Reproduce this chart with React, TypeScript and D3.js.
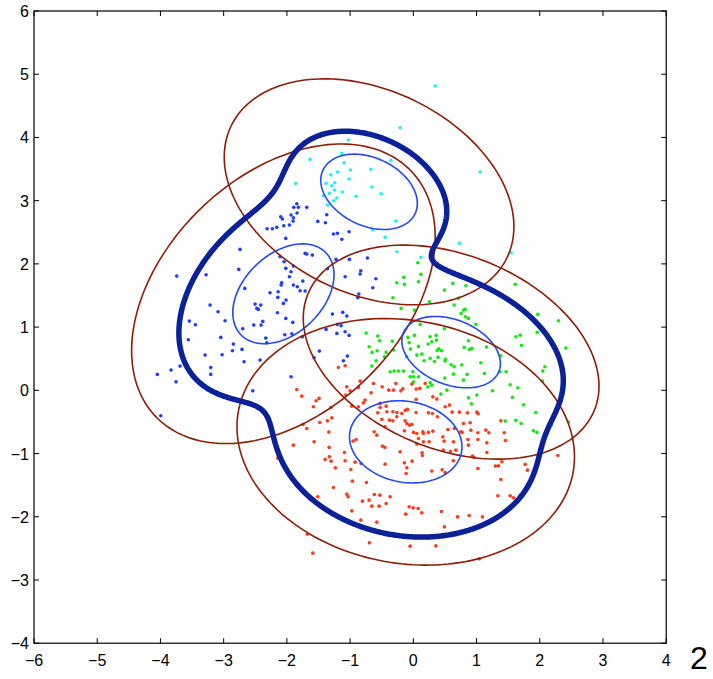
import React, { useMemo } from 'react';
import * as d3 from 'd3';

const W = 713, H = 679;
const xTicks = [-6, -5, -4, -3, -2, -1, 0, 1, 2, 3, 4];
const yTicks = [-4, -3, -2, -1, 0, 1, 2, 3, 4, 5, 6];

// mixture components, order: cyan, blue, green, red
const compMeans = [[-0.70, 3.14], [-2.055, 1.527], [0.598, 0.604], [-0.12, -0.815]];
const compAxes = [[0.806, 0.537], [0.934, 0.626], [0.815, 0.512], [0.897, 0.64]];
const compAngles = [-25.4, 44, -22, -10.4];
const compWeights = [0.075, 0.245, 0.262, 0.418];
const densityLevel = 0.0079;
const pointColors = ['#19f2ff', '#1f3cff', '#12e812', '#ff3a18'];

const cyanPoints = [
  [-1.633, 3.653], [-1.859, 3.274], [-1.38, 3.274], [-1.328, 3.116], [-1.422, 3.078], [-1.353, 2.93],
  [0.345, 4.813], [-0.209, 4.153], [-1.027, 3.959], [-1.131, 3.748], [-1.095, 3.6], [-0.356, 3.638],
  [1.057, 3.453], [-0.995, 3.484], [-0.672, 3.495], [-1.305, 3.41], [-1.201, 3.453], [-1.016, 3.342],
  [-1.242, 3.283], [-1.29, 3.236], [-0.657, 3.215], [-1.248, 3.168], [-1.122, 3.136], [-0.509, 3.109],
  [-1.21, 3.041], [-0.905, 3.068], [-1.258, 2.998], [-0.277, 2.677], [-0.641, 2.535], [-0.446, 2.419],
  [0.729, 2.324], [-0.261, 2.191], [1.547, 2.176], [0.119, 2.103],
];

const bluePoints = [
  [-1.843, 2.951], [-1.891, 2.894], [-1.818, 2.894], [-1.685, 2.894], [-2.097, 2.745], [-2.071, 2.709],
  [-1.934, 2.772], [-1.897, 2.729], [-1.839, 2.804], [-1.902, 2.677], [-2.313, 2.555], [-2.229, 2.555],
  [-2.16, 2.578], [-2.049, 2.603], [-1.96, 2.614], [-2.017, 2.403], [-1.511, 2.672], [-1.391, 2.65],
  [-1.369, 2.777],
  [-2.741, 2.229], [-1.712, 2.166], [-1.685, 2.155], [-1.597, 2.139], [-2.108, 2.112], [-2.044, 2.033],
  [-1.897, 1.965], [-2.017, 1.929], [-1.934, 1.875], [-2.761, 1.913], [-3.742, 1.807], [-3.278, 1.828],
  [-1.96, 1.796], [-1.359, 1.922], [-2.081, 1.701], [-2.092, 1.665], [-1.748, 1.728], [-1.897, 1.665],
  [-1.834, 1.638], [-1.791, 1.574], [-1.712, 1.57], [-2.666, 1.612], [-2.266, 1.543], [-2.139, 1.559],
  [-2.144, 1.47], [-2.013, 1.427], [-2.055, 1.375], [-2.503, 1.364], [-2.413, 1.348], [-2.476, 1.296],
  [-2.451, 1.28], [-3.215, 1.348], [-3.089, 1.242], [-2.15, 1.226], [-2.017, 1.138], [-1.907, 1.074],
  [-2.978, 1.1], [-3.543, 1.095], [-3.448, 1.036], [-2.381, 1.09], [-2.524, 1.032], [-2.408, 1.032],
  [-2.698, 0.973], [-3.046, 0.837], [-3.559, 0.799], [-2.334, 0.826], [-2.033, 0.878], [-1.922, 0.894],
  [-1.755, 0.847], [-2.318, 0.752], [-2.847, 0.731], [-2.709, 0.647], [-2.862, 0.625], [-3.294, 0.557],
  [-3.025, 0.562], [-2.677, 0.451], [-2.424, 0.478], [-1.486, 0.62], [-1.57, 0.514], [-1.38, 0.964],
  [-3.204, 0.362], [-3.69, 0.383], [-3.832, 0.32], [-4.049, 0.252], [-3.204, 0.252], [-3.753, 0.134],
  [-3.995, -0.403], [-1.934, 0.214], [-2.54, -0.008],
  [-1.264, 2.472], [-1.201, 2.483], [-1.131, 2.388], [-1.016, 2.508], [-1.222, 2.071], [-1.011, 2.071],
  [-0.726, 2.092], [-1.079, 1.796], [-0.831, 1.891], [-0.842, 1.839], [-0.593, 1.764], [-0.641, 1.622],
  [-0.862, 1.522], [-0.878, 1.464], [-1.28, 1.206], [-1.116, 1.233], [-1.052, 1.174], [-1.201, 1.043],
  [-1.142, 1.021], [-1.21, 0.9], [-1.079, 0.926], [-1.016, 0.869], [-1.043, 0.541], [-1.106, 0.467],
];

const greenPoints = [
  [0.071, 2.017], [0.119, 1.834], [-0.15, 1.786], [-0.261, 1.701], [-0.141, 1.676], [0.081, 1.717],
  [0.625, 1.691], [0.831, 1.653], [0.492, 1.585], [-0.324, 1.464], [0.714, 1.454], [0.255, 1.4],
  [0.646, 1.348], [-0.193, 1.296], [0.017, 1.269], [0.793, 1.269], [0.82, 1.28], [0.756, 1.217],
  [0.824, 1.163], [0.872, 1.138], [0.989, 1.043], [1.611, 1.676], [1.521, 1.4], [1.97, 1.201],
  [2.296, 1.1], [1.622, 0.847], [1.69, 0.873], [1.959, 0.916], [1.71, 0.71], [2.413, 0.668],
  [0.108, 1.043], [0.492, 0.973], [-0.087, 0.837], [-0.066, 0.752], [0.017, 0.869], [0.266, 0.847],
  [0.361, 0.869], [0.293, 0.767], [0.234, 0.731], [0.366, 0.794], [0.377, 0.631], [0.403, 0.657],
  [0.445, 0.625], [0.872, 0.783], [0.804, 0.679], [0.888, 0.647], [0.926, 0.663], [1.157, 0.684],
  [-0.747, 0.905], [-0.562, 0.858], [-0.536, 0.783], [-0.331, 0.778], [-0.699, 0.688], [-0.652, 0.6],
  [-0.573, 0.625], [-0.43, 0.6], [-0.589, 0.467], [-0.657, 0.383], [-0.457, 0.53], [-0.315, 0.636],
  [-0.103, 0.53], [-0.046, 0.652], [0.081, 0.695], [0.134, 0.573], [0.055, 0.557], [0.171, 0.467],
  [0.266, 0.505], [0.334, 0.457], [0.392, 0.521], [0.508, 0.489], [0.503, 0.462], [0.598, 0.403],
  [0.646, 0.372], [0.767, 0.403], [1.068, 0.435], [1.384, 0.546], [2.081, 0.372],
  [-0.367, 0.293], [-0.304, 0.304], [-0.236, 0.304], [-0.157, 0.304], [-0.008, 0.293], [-0.051, 0.214],
  [0.002, 0.214], [0.081, 0.214], [0.002, 0.13], [0.266, 0.119], [0.229, 0.055], [0.293, 0.082],
  [0.498, 0.193], [0.634, 0.256], [0.851, 0.252], [1.125, 0.267], [0.793, 0.161], [0.435, -0.06],
  [0.53, 0.003], [0.872, -0.119], [1.005, -0.076], [0.919, -0.214], [1.252, -0.008], [1.373, 0.293],
  [1.468, 0.293], [1.532, 0.087], [1.653, 0.04], [1.568, -0.112], [1.742, -0.229], [1.453, -0.487],
  [1.622, -0.476], [1.706, -0.524],
  [2.049, 0.304], [2.043, 0.146], [1.938, -0.35], [2.454, -0.503], [1.9, -0.641], [1.954, -0.666],
  [2.18, -0.555],
];

const redPoints = [
  [-1.185, 0.362], [-1.079, 0.388],
  [-1.843, 0.014], [-1.764, -0.092], [-1.052, 0.055], [-1.068, -0.076], [-1.0, -0.008], [-0.869, 0.046],
  [-0.842, 0.146], [-0.631, 0.109], [-0.494, 0.055], [-0.388, 0.003], [-0.277, 0.109], [-0.315, 0.003],
  [-0.198, -0.008], [-0.166, 0.024], [-0.024, 0.098], [0.044, 0.019], [0.103, 0.03], [0.187, 0.109],
  [0.309, -0.103], [0.372, -0.139], [0.044, -0.144], [-0.668, -0.04], [-0.763, -0.155], [-0.79, -0.198],
  [-1.491, -0.128], [-1.538, -0.166], [-1.581, -0.261], [-1.305, -0.271], [-0.973, -0.25], [-0.869, -0.261],
  [-0.525, -0.207], [-0.525, -0.271], [-0.43, -0.25], [-0.419, -0.34], [-0.562, -0.356], [-0.324, -0.34],
  [-0.261, -0.35], [-0.261, -0.419], [-0.182, -0.366], [-0.125, -0.318], [-0.093, -0.302], [0.044, -0.35],
  [0.239, -0.356], [0.302, -0.366], [0.381, -0.419], [0.503, -0.261], [0.571, -0.234], [0.614, -0.345],
  [0.729, -0.345], [0.856, -0.356], [1.005, -0.345], [1.025, -0.372], [0.899, -0.514], [0.793, -0.524],
  [1.384, -0.483], [-1.744, -0.54], [-1.685, -0.603], [-1.479, -0.508], [-1.359, -0.483], [-1.29, -0.435],
  [-1.337, -0.661], [-0.498, -0.46], [-0.378, -0.472], [-0.324, -0.483], [-0.13, -0.483], [-0.103, -0.524],
  [-0.062, -0.551], [-0.024, -0.54], [-0.141, -0.641], [0.002, -0.666], [0.055, -0.682], [0.15, -0.657],
  [0.16, -0.682], [0.239, -0.666], [0.309, -0.646], [-0.62, -0.657], [-0.578, -0.709], [-0.446, -0.578],
  [0.546, -0.619], [0.65, -0.603], [0.752, -0.657], [0.772, -0.666], [0.91, -0.63], [1.021, -0.672],
  [1.147, -0.63], [1.195, -0.672], [1.437, -0.672], [1.457, -0.793], [-1.897, -0.867], [-1.57, -0.815],
  [-1.332, -0.903], [-0.953, -0.804], [-0.905, -0.777], [-0.489, -0.883], [-0.451, -0.903], [-0.209, -0.973],
  [0.055, -0.851], [0.081, -0.761], [0.16, -0.815], [0.25, -0.815], [0.467, -0.736], [0.487, -0.804],
  [0.476, -0.946], [0.634, -0.815], [0.587, -0.967], [0.672, -0.946], [0.862, -0.777], [1.021, -0.777],
  [1.163, -0.831], [0.872, -0.867], [1.163, -0.983], [0.935, -1.041], [0.962, -1.062], [1.4, -1.131],
  [1.299, -1.199], [1.347, -1.195], [1.769, -1.172], [1.805, -1.263], [0.139, -0.989], [0.144, -1.03],
  [-2.144, -1.073], [-1.328, -1.052], [-1.396, -1.093], [-1.301, -1.12], [-1.09, -0.983], [-1.079, -1.115],
  [-0.921, -1.136], [-0.826, -1.157], [-0.989, -1.252], [-1.233, -1.226], [-0.446, -1.168], [-0.141, -1.147],
  [-0.019, -1.12], [-0.103, -1.226], [-0.114, -1.315], [0.293, -1.278], [0.456, -1.258], [0.634, -1.115],
  [0.503, -1.299], [1.021, -1.236], [1.384, -1.41], [-0.964, -1.437], [-0.742, -1.457], [-1.264, -1.536],
  [-1.511, -1.685], [-1.052, -1.642], [-1.032, -1.685], [-0.805, -1.753], [-0.699, -1.737], [-0.616, -1.647],
  [-0.53, -1.658], [-0.367, -1.685], [-0.43, -1.79], [-0.657, -1.832], [-0.541, -1.832], [-0.066, -1.843],
  [-0.003, -1.859], [0.076, -1.869], [0.134, -1.938], [-0.119, -1.959], [0.445, -1.916], [1.337, -1.669],
  [1.532, -1.669], [1.584, -1.701], [0.698, -2.002], [0.883, -1.979], [1.093, -2.002], [0.492, -2.16],
  [-0.973, -1.907], [-0.831, -2.054], [-0.578, -2.085], [-1.676, -2.275], [-1.59, -2.576], [-0.695, -2.413],
  [-0.051, -2.465], [0.356, -2.46], [1.046, -2.666], [2.286, -1.03],
];

const pointSets = [cyanPoints, bluePoints, greenPoints, redPoints];

function mixtureDensity(x: number, y: number) {
  let s = 0;
  compMeans.forEach((m, i) => {
    const [a, b] = compAxes[i];
    const t = (compAngles[i] * Math.PI) / 180;
    const dx = x - m[0], dy = y - m[1];
    const u = dx * Math.cos(t) + dy * Math.sin(t);
    const v = -dx * Math.sin(t) + dy * Math.cos(t);
    s += (compWeights[i] / (2 * Math.PI * a * b)) * Math.exp(-0.5 * ((u / a) ** 2 + (v / b) ** 2));
  });
  return s;
}

function ellipsePoints(i: number, k: number) {
  const [mx, my] = compMeans[i];
  const [a, b] = compAxes[i];
  const t = (compAngles[i] * Math.PI) / 180;
  return d3.range(0, 2 * Math.PI, Math.PI / 90).map((s) => {
    const ex = k * a * Math.cos(s), ey = k * b * Math.sin(s);
    return [mx + ex * Math.cos(t) - ey * Math.sin(t), my + ex * Math.sin(t) + ey * Math.cos(t)];
  });
}

export default function App() {
  const margin = { left: 34, top: 11, right: 46.8, bottom: 35.8 };
  const x = d3.scaleLinear().domain([-6, 4]).range([margin.left, W - margin.right]);
  const y = d3.scaleLinear().domain([-4, 6]).range([H - margin.bottom, margin.top]);
  const fmt = d3.format('d');

  const line = d3.line<number[]>()
    .x((d) => x(d[0]))
    .y((d) => y(d[1]))
    .curve(d3.curveLinearClosed);

  const contourPaths = useMemo(() => {
    const step = 0.02;
    const nx = Math.round(10 / step) + 1, ny = Math.round(10 / step) + 1;
    const values = new Array(nx * ny);
    for (let j = 0; j < ny; j++)
      for (let i = 0; i < nx; i++) values[j * nx + i] = mixtureDensity(-6 + i * step, -4 + j * step);
    const c = d3.contours().size([nx, ny]).thresholds([densityLevel])(values)[0];
    const paths: string[] = [];
    c.coordinates.forEach((poly) => {
      poly.forEach((ring) => {
        const pts = ring.map((p) => [-6 + (p[0] - 0.5) * step, -4 + (p[1] - 0.5) * step]);
        paths.push(line(pts) as string);
      });
    });
    return paths;
  }, []);

  const plotW = W - margin.right - margin.left;
  const plotH = H - margin.bottom - margin.top;
  const font = '"Liberation Sans", Arial, Helvetica, sans-serif';

  return (
    <svg width={W} height={H} style={{ position: 'absolute', left: 0, top: 0, background: '#fff' }}>
      <rect x={0} y={0} width={W} height={H} fill="#fff" />
      {/* data points */}
      {pointSets.map((pts, ci) => (
        <g key={ci} fill={pointColors[ci]}>
          {pts.map((p, i) => (
            <circle key={i} cx={x(p[0])} cy={y(p[1])} r={1.8} />
          ))}
        </g>
      ))}
      {/* 3-sigma and 1-sigma ellipses */}
      {compMeans.map((_, i) => (
        <g key={'e' + i} fill="none">
          <path d={line(ellipsePoints(i, 3)) as string} stroke="#8f1c06" strokeWidth={1.6} />
          <path d={line(ellipsePoints(i, 1)) as string} stroke="#2147ff" strokeWidth={1.6} />
        </g>
      ))}
      {/* density level contour */}
      {contourPaths.map((d, i) => (
        <path key={'c' + i} d={d} fill="none" stroke="#0a2197" strokeWidth={5.5} strokeLinejoin="round" />
      ))}
      {/* frame and ticks */}
      <rect x={margin.left} y={margin.top} width={plotW} height={plotH} fill="none" stroke="#000" strokeWidth={1.2} />
      {xTicks.map((t) => (
        <g key={'x' + t}>
          <line x1={x(t)} x2={x(t)} y1={y(-4)} y2={y(-4) - 5} stroke="#000" />
          <line x1={x(t)} x2={x(t)} y1={y(6)} y2={y(6) + 5} stroke="#000" />
          <text x={x(t)} y={666} textAnchor="middle" fontSize={16} fontFamily={font}>{fmt(t)}</text>
        </g>
      ))}
      {yTicks.map((t) => (
        <g key={'y' + t}>
          <line x1={x(-6)} x2={x(-6) + 5} y1={y(t)} y2={y(t)} stroke="#000" />
          <line x1={x(4)} x2={x(4) - 5} y1={y(t)} y2={y(t)} stroke="#000" />
          <text x={29} y={y(t) + 6} textAnchor="end" fontSize={16} fontFamily={font}>{fmt(t)}</text>
        </g>
      ))}
      <text x={690} y={669} fontSize={32} fontFamily={font}>2</text>
    </svg>
  );
}
